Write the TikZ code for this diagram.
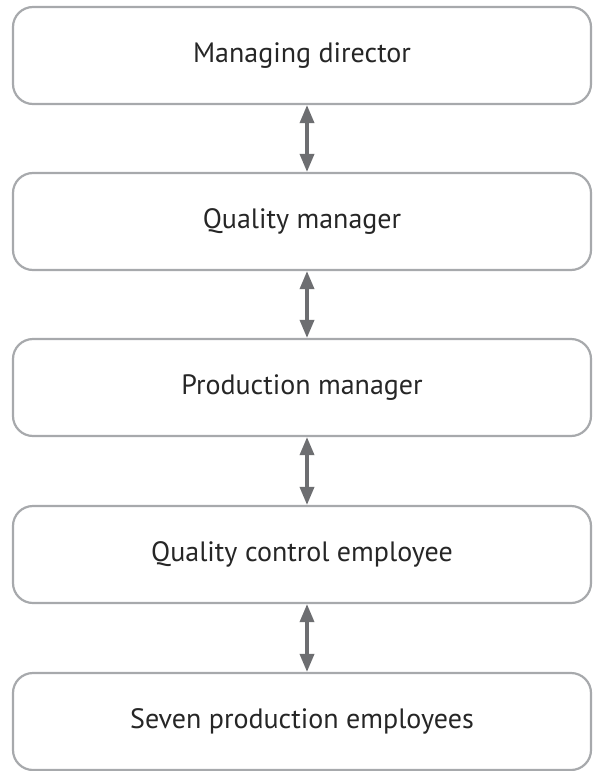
\documentclass[tikz,border=0pt]{standalone}
\usepackage{fontspec}
\setmainfont{PT Sans}
\usetikzlibrary{arrows.meta}
\definecolor{boxgray}{HTML}{A7A9AC}
\definecolor{arrowgray}{HTML}{6D6E71}
\tikzset{
  rolebox/.style={shape=rectangle, draw=boxgray, line width=2.2pt, rounded corners=20pt,
    minimum width=578pt, minimum height=97pt, inner sep=0pt, text=black!85,
    font=\fontsize{28}{32}\selectfont},
  link/.style={>={Triangle[length=18pt,width=14pt]}, <->, line width=3.5pt, draw=arrowgray}
}
\begin{document}
\begin{tikzpicture}[x=1pt, y=1pt]
\useasboundingbox (0,0) rectangle (592,-771);
\node[rolebox] (director) at (302,-55.5) {Managing director};
\node[rolebox] (quality) at (302,-221.5) {Quality manager};
\node[rolebox] (production) at (302,-387.5) {Production manager};
\node[rolebox] (control) at (302,-554.5) {Quality control employee};
\node[rolebox] (employees) at (302,-721.5) {Seven production employees};
\draw [link] ([xshift=5pt]director.south) -- ([xshift=5pt]quality.north);
\draw [link] ([xshift=5pt]quality.south) -- ([xshift=5pt]production.north);
\draw [link] ([xshift=5pt]production.south) -- ([xshift=5pt]control.north);
\draw [link] ([xshift=5pt]control.south) -- ([xshift=5pt]employees.north);
\end{tikzpicture}
\end{document}
